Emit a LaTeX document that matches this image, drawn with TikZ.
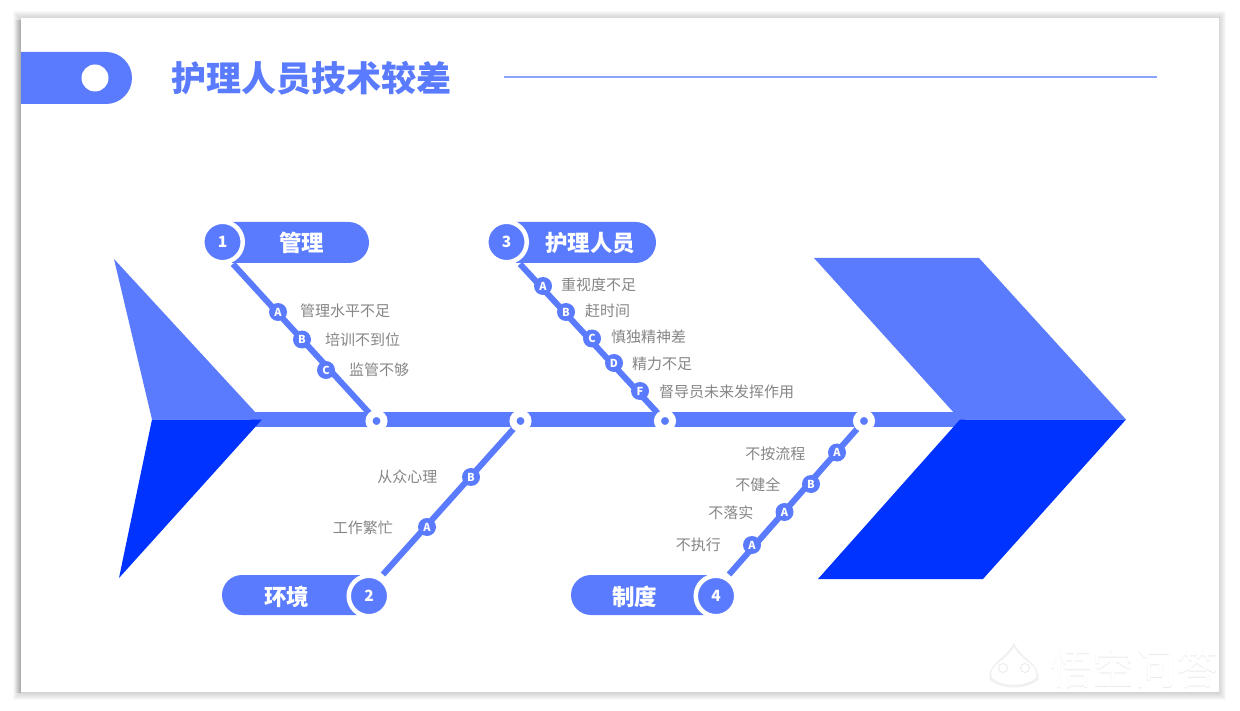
\documentclass[tikz,border=0pt]{standalone}
\usepackage{fontspec}
\setmainfont{Noto Sans}
\newfontfamily\cjk{Noto Sans CJK SC}
\usetikzlibrary{shapes.misc,backgrounds}
\definecolor{lblue}{HTML}{5A7BFD}
\definecolor{dblue}{HTML}{0033FF}
\definecolor{tgray}{HTML}{868686}
\definecolor{ruleblue}{HTML}{8DA5FF}
\tikzset{
  x=1pt,y=-1pt,
  numnode/.style={circle,fill=lblue,draw=white,line width=4.5pt,minimum size=40.5pt,inner sep=0pt,outer sep=0pt,text=white,font=\cjk\bfseries\fontsize{15.5}{15.5}\selectfont},
  hub/.style={circle,fill=lblue,draw=white,line width=7pt,minimum size=15pt,inner sep=0pt,outer sep=0pt},
  letter/.style={circle,fill=lblue,minimum size=18pt,inner sep=0pt,outer sep=0pt,text=white,font=\cjk\bfseries\fontsize{11}{11}\selectfont},
  pillR/.style={rounded rectangle,rounded rectangle west arc=none,fill=lblue,minimum height=41pt,inner sep=0pt,outer sep=0pt},
  pillL/.style={rounded rectangle,rounded rectangle east arc=none,fill=lblue,minimum height=40pt,inner sep=0pt,outer sep=0pt},
  pilltext/.style={text=white,inner sep=0pt,font=\cjk\bfseries\fontsize{22.5}{22.5}\selectfont},
  lab/.style={text=tgray,inner sep=0pt,font=\cjk\fontsize{15}{15}\selectfont},
  bone/.style={draw=lblue,line width=6pt},
}
\begin{document}
\begin{tikzpicture}
\useasboundingbox (0,0) rectangle (1240,711);
\coordinate (ruleA) at (504,77.5);
\coordinate (ruleB) at (1157,77.5);
\begin{scope}[on background layer]
  % shadow and slide
  \foreach \d in {8,7,6,5,4,3,2,1}{
    \fill[black,opacity=0.022] (21-\d,18-\d+1) rectangle (1219+\d-1,692+\d);
  }
  \foreach \d in {1,2,3,4,5,6}{
    \fill[black,opacity=0.03] (21-\d,20) rectangle (21,693);
  }
  \fill[white] (21,18) rectangle (1219,692);
  % header
  \fill[lblue] (21,52) -- (106,52) arc[start angle=-90,end angle=90,radius=26] -- (21,104) -- cycle;
  \draw[draw=ruleblue,line width=2pt] (ruleA) -- (ruleB);
\end{scope}

\node[circle,fill=white,minimum size=27pt,inner sep=0pt] (dot) at (95,78) {};
\node[anchor=west,inner sep=0pt,text=lblue,font=\cjk\bfseries\fontsize{35}{35}\selectfont] (title) at (171,78) {护理人员技术较差};

% hubs
\node[hub] (h1) at (376.5,421) {};
\node[hub] (h2) at (520.5,421) {};
\node[hub] (h3) at (665,421) {};
\node[hub] (h4) at (864,421) {};

% spine ends and bone free ends
\coordinate (spineA) at (250,419.3);
\coordinate (spineB) at (965,419.3);
\coordinate (e1) at (233,264);
\coordinate (e3) at (520,264);
\coordinate (e2) at (383,574.5);
\coordinate (e4) at (729,574.5);

% title pills
\begin{scope}[on background layer]
  \draw[lblue,line width=15.5pt] (spineA) -- (spineB);
  \draw[bone] (e1) -- (h1.center);
  \draw[bone] (e3) -- (h3.center);
  \draw[bone] (e2) -- (h2.center);
  \draw[bone] (e4) -- (h4.center);
  \fill[lblue] (114,259) -- (152,419.5) -- (262,419.5) -- cycle;
  \fill[dblue] (152,419.5) -- (262,419.5) -- (119,578) -- cycle;
  \fill[lblue] (814,258) -- (979,258) -- (1126,419.5) -- (960,419.5) -- cycle;
  \fill[dblue] (960,419.5) -- (1126,419.5) -- (983,579) -- (818,579) -- cycle;
\end{scope}

\node[pillR,minimum width=137pt] (p1) at (300.5,242.5) {};
\node[pillR,minimum width=140pt] (p3) at (586,242.5) {};
\node[pillL,minimum width=140pt] (p2) at (292,595) {};
\node[pillL,minimum width=140pt] (p4) at (641,595) {};
\node[pilltext] (t1) at (301.5,243) {管理};
\node[pilltext] (t3) at (590,243) {护理人员};
\node[pilltext] (t2) at (286.5,596.5) {环境};
\node[pilltext] (t4) at (634.5,596.5) {制度};

\node[numnode] (n1) at (222.5,242) {1};
\node[numnode] (n3) at (506.5,242) {3};
\node[numnode] (n2) at (369,596) {2};
\node[numnode] (n4) at (716,596) {4};

% bone 1
\node[letter] (a1) at (278,312) {A};
\node[letter] (b1) at (302,339.5) {B};
\node[letter] (c1) at (326,370) {C};
\node[lab,anchor=west] (la1) at (300,310.5) {管理水平不足};
\node[lab,anchor=west] (lb1) at (325,340) {培训不到位};
\node[lab,anchor=west] (lc1) at (349,370) {监管不够};
% bone 3
\node[letter] (a3) at (543,286) {A};
\node[letter] (b3) at (566,312) {B};
\node[letter] (c3) at (592,338.5) {C};
\node[letter] (d3) at (614,363) {D};
\node[letter] (f3) at (640,391) {F};
\node[lab,anchor=west] (la3) at (561,284.5) {重视度不足};
\node[lab,anchor=west] (lb3) at (585,310.5) {赶时间};
\node[lab,anchor=west] (lc3) at (611,337) {慎独精神差};
\node[lab,anchor=west] (ld3) at (632,363.5) {精力不足};
\node[lab,anchor=west] (lf3) at (659,392) {督导员未来发挥作用};
% bone 2
\node[letter] (b2) at (471,477) {B};
\node[letter] (a2) at (427,527) {A};
\node[lab,anchor=east] (lb2) at (437.5,477) {从众心理};
\node[lab,anchor=east] (la2) at (393,527.5) {工作繁忙};
% bone 4
\node[letter] (a4) at (837,452.5) {A};
\node[letter] (b4) at (811,484) {B};
\node[letter] (c4) at (784.5,512) {A};
\node[letter] (d4) at (752,545) {A};
\node[lab,anchor=east] (la4) at (805.5,453.5) {不按流程};
\node[lab,anchor=east] (lb4) at (780.5,484.5) {不健全};
\node[lab,anchor=east] (lc4) at (753.5,513) {不落实};
\node[lab,anchor=east] (ld4) at (721,545) {不执行};

% watermark
\node[text=black!8,inner sep=0pt,font=\cjk\fontsize{42}{42}\selectfont] (wm0) at (1134.5,669) {悟空问答};
\node[text=white,inner sep=0pt,font=\cjk\fontsize{42}{42}\selectfont] (wm) at (1134,668) {悟空问答};
\fill[black!6] (990,680) .. controls (985,665) and (1005,660) .. (1014,643) .. controls (1022,660) and (1042,665) .. (1038,680) .. controls (1025,690) and (1003,690) .. (990,680) -- cycle;
\fill[white] (992,678) .. controls (987,665) and (1007,661) .. (1014,647) .. controls (1021,661) and (1040,665) .. (1036,678) .. controls (1025,687) and (1003,687) .. (992,678) -- cycle;
\draw[black!7,line width=1pt] (1003,668) circle[radius=4.5];
\draw[black!7,line width=1pt] (1025,668) circle[radius=4.5];
\end{tikzpicture}
\end{document}
